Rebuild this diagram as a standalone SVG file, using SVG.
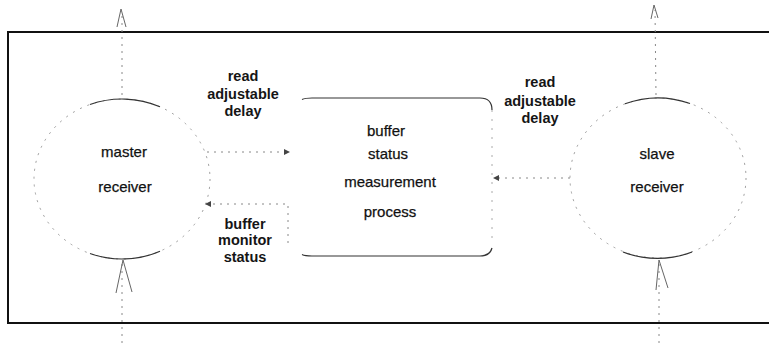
<svg xmlns="http://www.w3.org/2000/svg" width="769" height="346" viewBox="0 0 769 346">
  <style>
    .frame { fill: none; stroke: #111; stroke-width: 2; }
    .bubble { fill: none; stroke: #9a9a9a; stroke-width: 1; stroke-dasharray: 2 6; }
    .rim { fill: none; stroke: #333; stroke-width: 1.2; }
    .edge { fill: none; stroke: #aaa; stroke-width: 1; stroke-dasharray: 2 7; }
    .flow { fill: none; stroke: #888; stroke-width: 1; stroke-dasharray: 2 5; }
    .head { fill: none; stroke: #666; stroke-width: 1; }
    .name { font-family: "Liberation Sans", Arial, sans-serif; font-size: 15px; fill: #111; stroke: #111; stroke-width: 0.25; text-anchor: middle; }
    .label { font-family: "Liberation Sans", Arial, sans-serif; font-size: 14.5px; font-weight: bold; fill: #151515; text-anchor: middle; }
  </style>
  <defs>
    <marker id="tip" markerUnits="userSpaceOnUse" markerWidth="6" markerHeight="6" refX="6" refY="3" orient="auto">
      <path d="M0,0 L6,3 L0,6 z" fill="#444"/>
    </marker>
  </defs>

  <rect width="769" height="346" fill="#fff"/>

  <!-- system boundary: open on the right -->
  <path class="frame" d="M769,32 L8,32 L8,323 L769,323"/>

  <!-- master receiver bubble -->
  <g id="master-receiver">
    <ellipse class="bubble" cx="122" cy="179" rx="88" ry="80"/>
    <path class="rim" d="M90,104.5 A88,80 0 0,1 160,106.8"/>
    <path class="rim" d="M90,253.5 A88,80 0 0,0 160,251.2"/>
    <text class="name" x="124" y="157">master</text>
    <text class="name" x="125" y="192">receiver</text>
  </g>

  <!-- buffer status measurement process -->
  <g id="measurement-process">
    <!-- right side drawn dotted; left side left out -->
    <path class="edge" d="M492,110 L492,244"/>
    <path class="rim" d="M302,99.5 Q305,98 312,98 L480,98 Q492,98 492,110"/>
    <path class="rim" d="M302,254.5 Q305,256 312,256 L480,256 Q490,256 492,248"/>
    <text class="name" x="386" y="136">buffer</text>
    <text class="name" x="388" y="159">status</text>
    <text class="name" x="390" y="187">measurement</text>
    <text class="name" x="390" y="217">process</text>
  </g>

  <!-- slave receiver bubble -->
  <g id="slave-receiver">
    <ellipse class="bubble" cx="658" cy="178" rx="88" ry="80"/>
    <path class="rim" d="M625,103.8 A88,80 0 0,1 690,103.5"/>
    <path class="rim" d="M623,252 A88,80 0 0,0 692,252"/>
    <text class="name" x="657" y="159">slave</text>
    <text class="name" x="657" y="192">receiver</text>
  </g>

  <!-- data flows -->
  <g id="flows">
    <!-- master receiver in/out of the boundary -->
    <line class="flow" x1="122" y1="95" x2="122" y2="14"/>
    <path class="head" d="M117,27 L121,9 L126,27"/>
    <line class="flow" x1="122" y1="343" x2="122" y2="262"/>
    <path class="head" d="M116,293 L123,260 L132,292"/>

    <!-- slave receiver in/out of the boundary -->
    <line class="flow" x1="656" y1="95" x2="655" y2="10"/>
    <path class="head" d="M651,19 L654,5 L658,18"/>
    <line class="flow" x1="659" y1="343" x2="659" y2="262"/>
    <path class="head" d="M656,290 L659,260 L668,288"/>

    <!-- read adjustable delay (master side) -->
    <line class="flow" x1="207" y1="152" x2="290" y2="152" marker-end="url(#tip)"/>
    <!-- buffer monitor status -->
    <polyline class="flow" points="288,243 288,204 205,204" marker-end="url(#tip)"/>
    <!-- read adjustable delay (slave side) -->
    <line class="flow" x1="570" y1="178" x2="493" y2="178" marker-end="url(#tip)"/>
  </g>

  <!-- flow labels -->
  <g id="flow-labels">
    <text class="label" x="243" y="81">read</text>
    <text class="label" x="243" y="99">adjustable</text>
    <text class="label" x="243" y="116">delay</text>

    <text class="label" x="245" y="229">buffer</text>
    <text class="label" x="245" y="245">monitor</text>
    <text class="label" x="245" y="262">status</text>

    <text class="label" x="540" y="87">read</text>
    <text class="label" x="540" y="106">adjustable</text>
    <text class="label" x="540" y="123">delay</text>
  </g>
</svg>
